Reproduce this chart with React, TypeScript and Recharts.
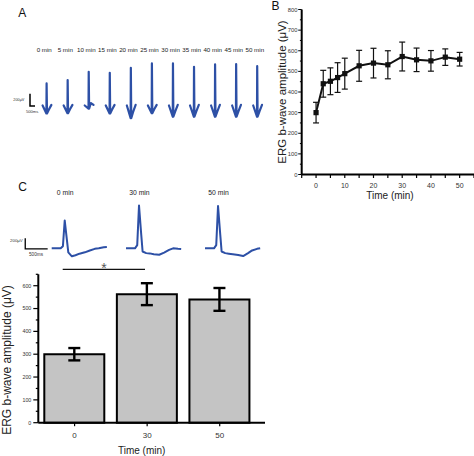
import React from "react";
import { LineChart, Line, BarChart, Bar, XAxis, YAxis, ErrorBar } from "recharts";

const FONT = '"Liberation Sans", Arial, sans-serif';
const BLUE = "#2d50a6";

// Panel A: one trace every 5 min; shape points in ms from the label, values in µV
const minutesA = [0, 5, 10, 15, 20, 25, 30, 35, 40, 45, 50];
const shapeTimesA = [-160, 220, 240, 280, 460, 720];
const traceA = [
  [10, -120, 370, -120, -60, 20],
  [10, -115, 424, -115, -55, 20],
  [10, -40, 560, -40, 50, 20],
  [10, -120, 543, -120, -60, 20],
  [10, -196, 624, -196, -100, 20],
  [10, -115, 696, -115, -55, 20],
  [10, -174, 696, -174, -90, 20],
  [10, -174, 641, -174, -90, 20],
  [10, -174, 680, -174, -90, 20],
  [10, -174, 685, -174, -90, 20],
  [10, -174, 652, -174, -90, 20],
];
const gapA = 2106; // strip spacing between traces, ms
const scaleBarA = [
  { t: -1420, v: 200 },
  { t: -1420, v: 0 },
  { t: -920, v: 0 },
];

// Panel B: mean b-wave amplitude over time
const timeB = [0, 2.5, 5, 7.5, 10, 15, 20, 25, 30, 35, 40, 45, 50];
const ampB = [300, 440, 452, 470, 489, 527, 540, 532, 572, 556, 551, 569, 559];
const semB = [50, 65, 65, 72, 75, 75, 72, 68, 70, 57, 50, 40, 33];
const yTicksB = [0, 50, 100, 150, 200, 250, 300, 350, 400, 450, 500, 550, 600, 650, 700, 750, 800];
const xTicksB = [-5, 0, 5, 10, 15, 20, 25, 30, 35, 40, 45, 50, 55];

// Panel C: example traces and bar summary
const labelsC = ["0 min", "30 min", "50 min"];
const startsC = [0, 1657, 3419];
const traceTimesC = [0, 200, 250, 290, 340, 370, 450, 530, 620, 740, 850, 960, 1050, 1160, 1230];
const traceC0 = [0, 0, 40, 520, 150, -75, -150, -130, -100, -75, -40, -10, 0, 20, 25];
const traceC30 = [0, 0, 60, 800, 250, -60, -90, -95, -110, -120, -80, -30, 0, -10, -15];
const traceC50 = [0, 0, 60, 790, 250, -60, -90, -100, -110, -125, -145, -90, -40, -10, 0];
const scaleBarC = [
  { t: -590, v: 190 },
  { t: -590, v: -10 },
  { t: -90, v: -10 },
];
const groupsC = ["0", "30", "50"];
const meanC = [300, 563, 540];
const semC = [27, 48, 50];
const yTicksC = [0, 50, 100, 150, 200, 250, 300, 350, 400, 450, 500, 550, 600, 650];

const rowsB = timeB.map((t, i) => ({ t, amp: ampB[i], sem: semB[i] }));
const rowsC = groupsC.map((g, i) => ({ group: g, mean: meanC[i], sem: semC[i] }));
const stripA = traceA.map((vals, i) =>
  shapeTimesA.map((dt, j) => ({ t: i * gapA + dt, v: vals[j] }))
);
const stripC = [traceC0, traceC30, traceC50].map((vals, i) =>
  traceTimesC.map((t, j) => ({ t: startsC[i] + t, v: vals[j] }))
);

const YTickB = ({ x, y, payload }: any) => {
  const major = payload.value % 100 === 0;
  return (
    <g>
      <line x1={x} x2={x - (major ? 3.5 : 1.8)} y1={y} y2={y} stroke="#000" strokeWidth={1} />
      {major && (
        <text x={x - 4.2} y={y} dy={2} textAnchor="end" fontSize={5.8} fill="#333">
          {payload.value}
        </text>
      )}
    </g>
  );
};

const XTickB = ({ x, y, payload }: any) => {
  const labelled = payload.value >= 0 && payload.value % 10 === 0;
  return (
    <g>
      <line x1={x} x2={x} y1={y} y2={y + 3.5} stroke="#000" strokeWidth={1.2} />
      {labelled && (
        <text x={x} y={y + 13.2} textAnchor="middle" fontSize={7} fill="#333">
          {payload.value}
        </text>
      )}
    </g>
  );
};

const YTickC = ({ x, y, payload }: any) => {
  const major = payload.value % 100 === 0;
  return (
    <g>
      <line x1={x} x2={x - (major ? 5 : 2.5)} y1={y} y2={y} stroke="#000" strokeWidth={1.2} />
      {major && (
        <text x={x - 7} y={y} dy={1.9} textAnchor="end" fontSize={5.3} fill="#333">
          {payload.value}
        </text>
      )}
    </g>
  );
};

const XTickC = ({ x, y, payload }: any) => (
  <g>
    <line x1={x} x2={x} y1={y} y2={y + 3.5} stroke="#000" strokeWidth={1.2} />
    <text x={x} y={y + 15.5} textAnchor="middle" fontSize={8} fill="#333">
      {payload.value}
    </text>
  </g>
);

const square = (p: any) => (
  <rect key={`sq-${p.index}`} x={p.cx - 2.6} y={p.cy - 2.6} width={5.2} height={5.2} fill="#111" />
);

export default function App() {
  return (
    <div
      style={{
        position: "absolute",
        left: 0,
        top: 0,
        width: 474,
        height: 456,
        background: "#fff",
        overflow: "hidden",
        fontFamily: FONT,
      }}
    >
      {/* A: traces strip */}
      <div style={{ position: "absolute", left: 0, top: 40 }}>
        <LineChart width={270} height={90} margin={{ top: 0, right: 0, bottom: 0, left: 0 }}>
          <XAxis
            orientation="top"
            dataKey="t"
            type="number"
            domain={[-4420, 22580]}
            allowDataOverflow
            ticks={minutesA.map((m, i) => i * gapA)}
            tickFormatter={(v: number) => `${minutesA[Math.round(v / gapA)]} min`}
            interval={0}
            height={14}
            axisLine={false}
            tickLine={false}
            tickSize={0}
            tickMargin={2}
            tick={{ fontSize: 6.2, fill: "#222" }}
          />
          <YAxis hide type="number" domain={[-390, 850]} allowDataOverflow />
          {stripA.map((d, i) => (
            <Line
              key={`a${i}`}
              data={d}
              dataKey="v"
              stroke={BLUE}
              strokeWidth={2.2}
              strokeLinejoin="round"
              strokeLinecap="round"
              dot={false}
              isAnimationActive={false}
            />
          ))}
          <Line data={scaleBarA} dataKey="v" stroke="#000" strokeWidth={1.5} dot={false} isAnimationActive={false} />
        </LineChart>
      </div>

      {/* B: amplitude over time */}
      <div style={{ position: "absolute", left: 250, top: 0 }}>
        <LineChart width={224} height={210} data={rowsB} margin={{ top: 9.5, right: 0, bottom: 0, left: 0 }}>
          <XAxis
            dataKey="t"
            type="number"
            domain={[-5, 55]}
            ticks={xTicksB}
            interval={0}
            height={35.5}
            axisLine={{ stroke: "#000", strokeWidth: 2 }}
            tickLine={false}
            tickSize={0}
            tickMargin={0}
            tick={<XTickB />}
          />
          <YAxis
            type="number"
            domain={[0, 800]}
            ticks={yTicksB}
            interval={0}
            width={51.7}
            axisLine={{ stroke: "#000", strokeWidth: 2 }}
            tickLine={false}
            tickSize={0}
            tickMargin={0}
            tick={<YTickB />}
          />
          <Line
            dataKey="amp"
            stroke="#111"
            strokeWidth={2}
            dot={square}
            activeDot={false}
            isAnimationActive={false}
          >
            <ErrorBar dataKey="sem" width={3} strokeWidth={1.2} stroke="#111" direction="y" />
          </Line>
        </LineChart>
      </div>

      {/* C: example traces */}
      <div style={{ position: "absolute", left: 0, top: 180 }}>
        <LineChart width={270} height={85} margin={{ top: 0, right: 0, bottom: 0, left: 0 }}>
          <XAxis
            orientation="top"
            dataKey="t"
            type="number"
            domain={[-1153, 4868]}
            allowDataOverflow
            ticks={startsC.map((s) => s + 300)}
            tickFormatter={(v: number) => labelsC[startsC.findIndex((s) => s + 300 === v)]}
            interval={0}
            height={17}
            axisLine={false}
            tickLine={false}
            tickSize={0}
            tickMargin={2}
            tick={{ fontSize: 6.8, fill: "#222" }}
          />
          <YAxis hide type="number" domain={[-312, 959]} allowDataOverflow />
          {stripC.map((d, i) => (
            <Line
              key={`c${i}`}
              data={d}
              dataKey="v"
              stroke={BLUE}
              strokeWidth={2}
              strokeLinejoin="round"
              dot={false}
              isAnimationActive={false}
            />
          ))}
          <Line data={scaleBarC} dataKey="v" stroke="#000" strokeWidth={1.3} dot={false} isAnimationActive={false} />
        </LineChart>
      </div>

      {/* C: bar summary */}
      <div style={{ position: "absolute", left: 0, top: 260 }}>
        <BarChart width={270} height={196} data={rowsC} margin={{ top: 14.3, right: 5, bottom: 0, left: 0 }}>
          <XAxis
            dataKey="group"
            height={33.3}
            padding={{ left: 0, right: 9 }}
            interval={0}
            axisLine={{ stroke: "#000", strokeWidth: 2 }}
            tickLine={false}
            tickSize={0}
            tickMargin={0}
            tick={<XTickC />}
          />
          <YAxis
            type="number"
            domain={[0, 650]}
            ticks={yTicksC}
            interval={0}
            width={38.3}
            axisLine={{ stroke: "#000", strokeWidth: 2 }}
            tickLine={false}
            tickSize={0}
            tickMargin={0}
            tick={<YTickC />}
          />
          <Bar dataKey="mean" fill="#c4c4c4" stroke="#000" strokeWidth={2} barSize={60} isAnimationActive={false}>
            <ErrorBar dataKey="sem" width={6} strokeWidth={2.4} stroke="#000" direction="y" />
          </Bar>
        </BarChart>
      </div>

      {/* labels and annotations */}
      <svg
        width={474}
        height={456}
        style={{ position: "absolute", left: 0, top: 0, pointerEvents: "none" }}
        fontFamily={FONT}
      >
        <text x={18.3} y={16.8} fontSize={12} fill="#111">A</text>
        <text x={271.5} y={10.3} fontSize={12} fill="#111">B</text>
        <text x={18.3} y={190.8} fontSize={12} fill="#111">C</text>

        <text x={13.3} y={100.6} fontSize={3.8} fill="#333">200μV</text>
        <text x={26} y={113} fontSize={4.1} fill="#333">500ms</text>

        <text x={10} y={242} fontSize={4.4} fill="#333">200μV</text>
        <text x={29} y={256} fontSize={4.7} fill="#333">500ms</text>

        <text x={286} y={92} fontSize={11.5} fill="#222" textAnchor="middle" transform="rotate(-90 286 92)">
          ERG b-wave amplitude (μV)
        </text>
        <text x={390} y={198.5} fontSize={10} fill="#222" textAnchor="middle">Time (min)</text>

        <text x={10.5} y={360} fontSize={12} fill="#222" textAnchor="middle" transform="rotate(-90 10.5 360)">
          ERG b-wave amplitude (μV)
        </text>
        <text x={141.7} y={453.5} fontSize={10} fill="#222" textAnchor="middle">Time (min)</text>

        <line x1={62.7} x2={145} y1={269.3} y2={269.3} stroke="#111" strokeWidth={1.2} />
        <text x={104} y={272.5} fontSize={14} fill="#555" textAnchor="middle">*</text>
      </svg>
    </div>
  );
}
